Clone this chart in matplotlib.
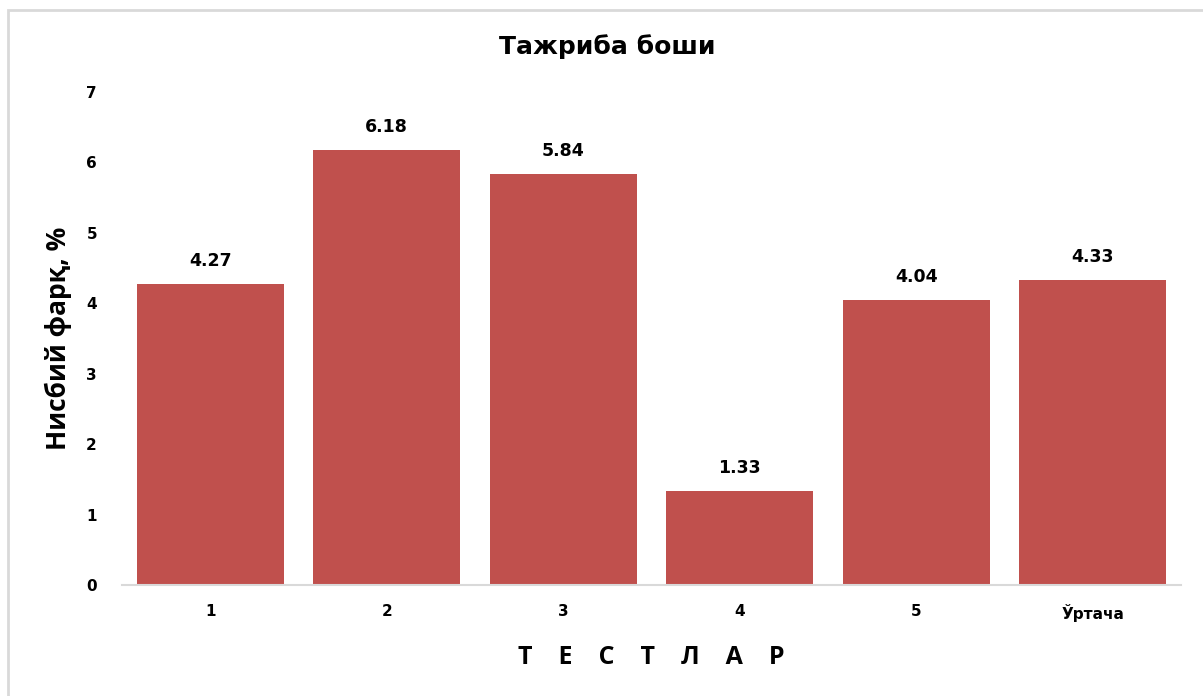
import matplotlib.pyplot as plt
from matplotlib.patches import Rectangle
import numpy as np

plt.rcParams['font.family'] = ['DejaVu Sans']

# Дані діаграми
categories = ['1', '2', '3', '4', '5', 'Ўртача']
values = [4.27, 6.18, 5.84, 1.33, 4.04, 4.33]
yticks = [0, 1, 2, 3, 4, 5, 6, 7]

fig = plt.figure(figsize=(12.03, 6.96), dpi=100)
# сіра рамка навколо діаграми
fig.patches.append(Rectangle((8 / 1203, -0.1), 1.2, 1.1 - 10 / 696,
                             transform=fig.transFigure, fill=False,
                             edgecolor='#D9D9D9', linewidth=2))
ax = fig.add_axes([0.1014, 0.1595, 0.8803, 0.7083])

x = np.arange(len(categories))
ax.bar(x, values, width=0.835, color='#C0504D', zorder=2)

for xi, v in zip(x, values):
    ax.text(xi, v + 0.2, f'{v:.2f}', ha='center', va='bottom',
            fontsize=12.5, fontweight='bold')

ax.set_xlim(-0.5, len(categories) - 0.5)
ax.set_ylim(0, 7)
ax.set_yticks(yticks)
ax.set_xticks(x)
ax.set_xticklabels(categories)
ax.tick_params(axis='both', length=0, labelsize=11)
ax.tick_params(axis='x', pad=14)
ax.tick_params(axis='y', pad=18)
for lbl in ax.get_xticklabels() + ax.get_yticklabels():
    lbl.set_fontweight('bold')

for s in ['top', 'right', 'left']:
    ax.spines[s].set_visible(False)
ax.spines['bottom'].set_color('#D9D9D9')
ax.spines['bottom'].set_linewidth(1.5)

# заголовок центровано по всій діаграмі, як в Excel
fig.text(0.505, 1 - 47 / 696, 'Тажриба боши', fontsize=18, fontweight='bold',
         ha='center', va='center')
ax.set_ylabel('Нисбий фарқ, %', fontsize=19, fontweight='bold', labelpad=10,
              family='Open Sans')
ax.set_xlabel('Т    Е    С    Т    Л    А    Р', fontsize=18, fontweight='bold',
              labelpad=16, family='Open Sans')

fig.savefig('out.png', dpi=100)
